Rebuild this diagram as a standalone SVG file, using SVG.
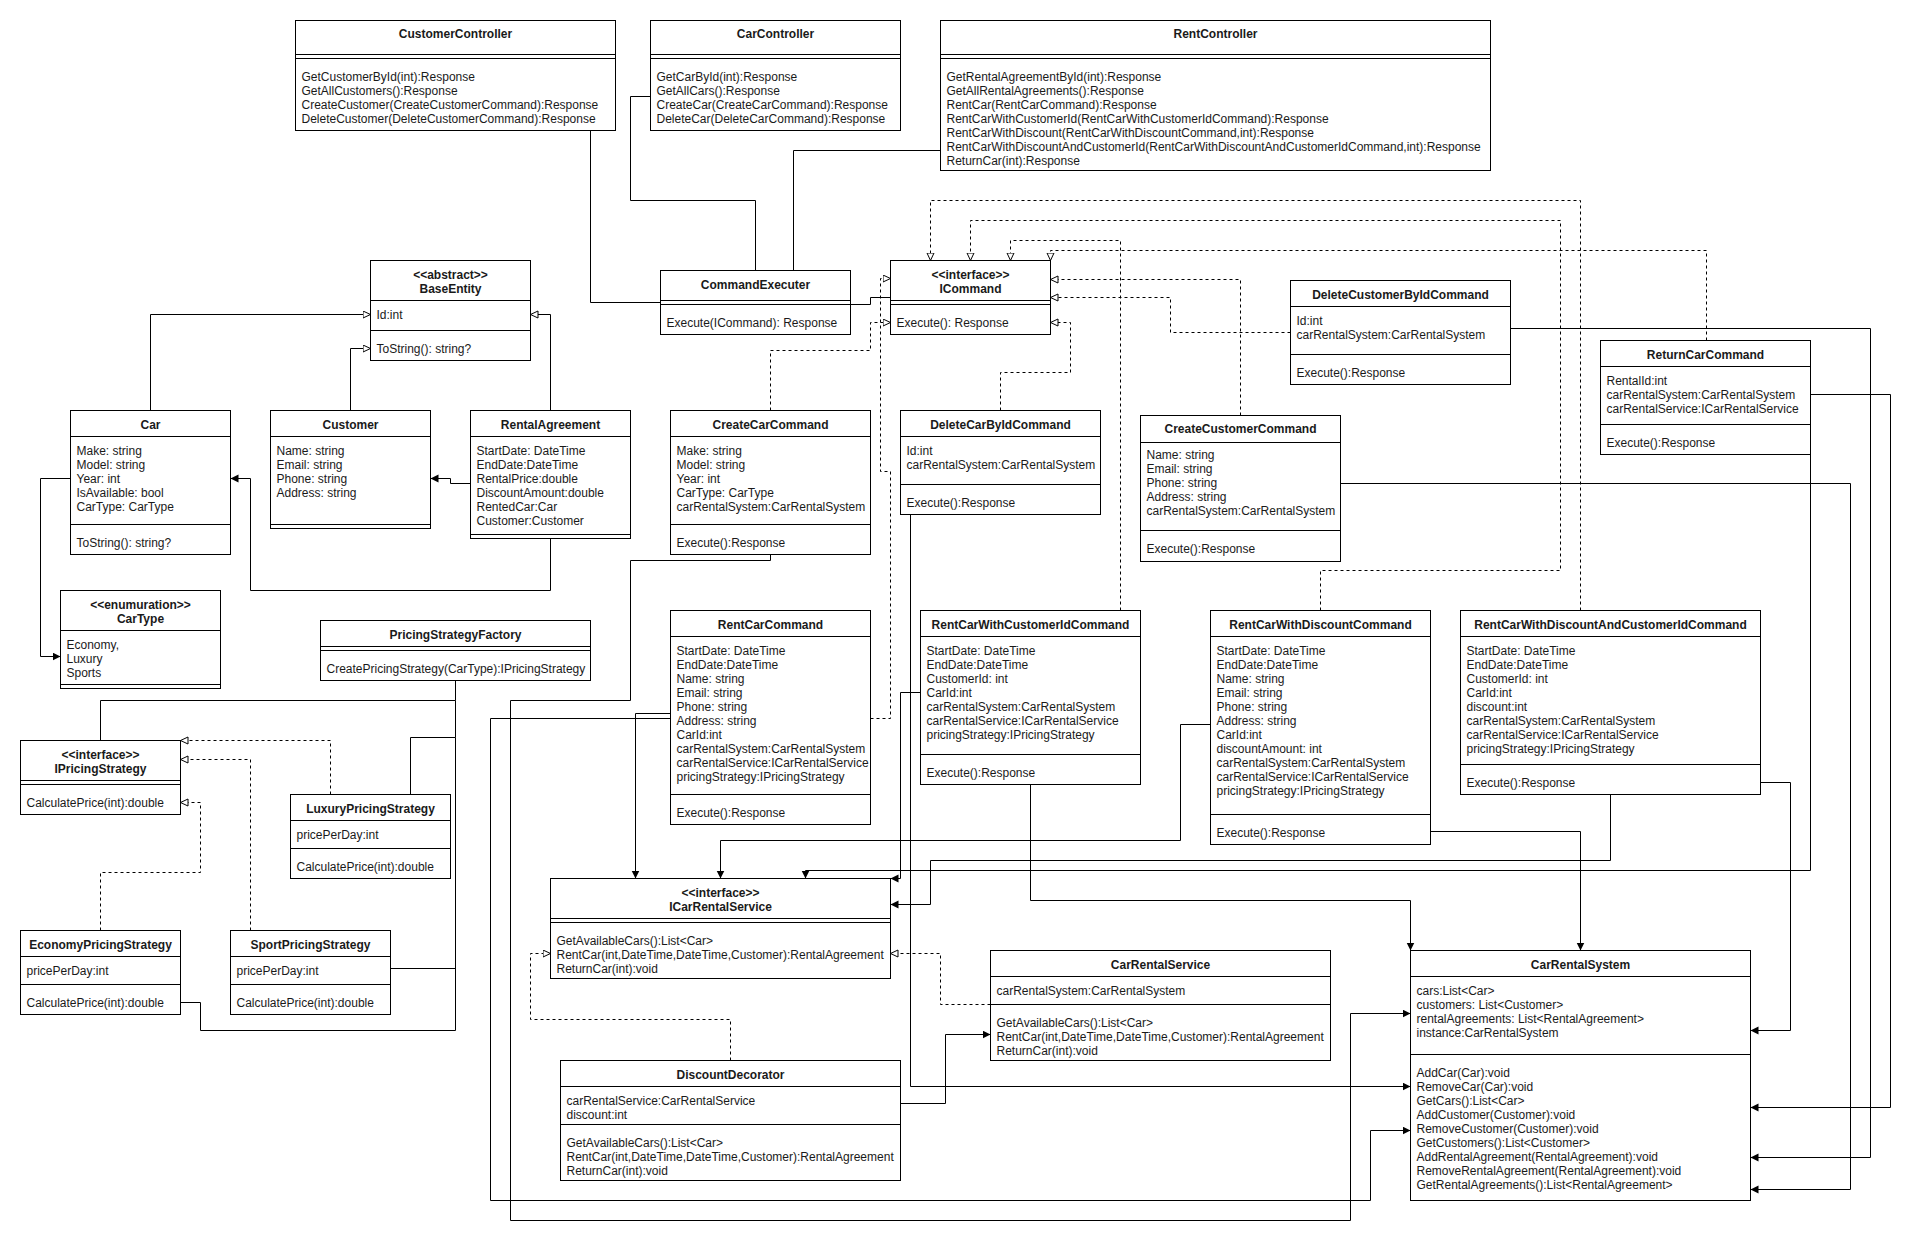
<svg xmlns="http://www.w3.org/2000/svg" width="1920" height="1250" viewBox="0 0 1920 1250">
<style>
.bx{fill:#fff;stroke:#000;stroke-width:1}
.sep{stroke:#000;stroke-width:1}
text{font-family:"Liberation Sans",Arial,Helvetica,sans-serif;font-size:12px;fill:#1a1a1a}
.ti{font-weight:bold;text-anchor:middle}
.ln{fill:none;stroke:#000;stroke-width:1}
.da{stroke-dasharray:3 3}
</style>
<defs>
<marker id="fa" markerWidth="10" markerHeight="10" refX="8" refY="4" orient="auto" markerUnits="userSpaceOnUse"><path d="M0,0 L8,4 L0,8 z" fill="#000"/></marker>
<marker id="ha" markerWidth="10" markerHeight="10" refX="8" refY="4" orient="auto" markerUnits="userSpaceOnUse"><path d="M0.5,0.5 L8,4 L0.5,7.5 z" fill="#fff" stroke="#000" stroke-width="1"/></marker>
</defs>
<rect width="1920" height="1250" fill="#fff"/>
<g transform="translate(0.5,0.5)">

<g id="connectors">
<!-- controllers to executer -->
<path class="ln" d="M590,130 V302 H660"/>
<path class="ln" d="M650,96 H630 V200 H755 V270"/>
<path class="ln" d="M940,150 H793 V270"/>
<path class="ln" d="M850,304 H870 V297 H890"/>
<!-- inheritance -->
<path class="ln" d="M150,410 V314 H370" marker-end="url(#ha)"/>
<path class="ln" d="M350,410 V348 H370" marker-end="url(#ha)"/>
<path class="ln" d="M550,410 V314 H530" marker-end="url(#ha)"/>
<!-- associations entities -->
<path class="ln" d="M470,483 H450 V478 H430" marker-end="url(#fa)"/>
<path class="ln" d="M550,538 V590 H250 V478 H230" marker-end="url(#fa)"/>
<path class="ln" d="M70,478 H40 V656 H60" marker-end="url(#fa)"/>
<!-- pricing factory -->
<path class="ln" d="M455,680 V700 H100 V740"/>
<path class="ln" d="M455,700 V737 H410 V794"/>
<path class="ln" d="M455,737 V1030 H200 V1002 H180"/>
<path class="ln" d="M455,968 H390"/>
<!-- pricing realization -->
<path class="ln da" d="M330,794 V740 H180" marker-end="url(#ha)"/>
<path class="ln da" d="M250,930 V759 H180" marker-end="url(#ha)"/>
<path class="ln da" d="M100,930 V872 H200 V802 H180" marker-end="url(#ha)"/>
<!-- commands realize ICommand -->
<path class="ln da" d="M770,410 V350 H870 V322 H890" marker-end="url(#ha)"/>
<path class="ln da" d="M870,718 H890 V471 H880 V278 H890" marker-end="url(#ha)"/>
<path class="ln da" d="M1000,410 V372 H1070 V322 H1050" marker-end="url(#ha)"/>
<path class="ln da" d="M1290,332 H1170 V297 H1050" marker-end="url(#ha)"/>
<path class="ln da" d="M1240,415 V279 H1050" marker-end="url(#ha)"/>
<path class="ln da" d="M1120,610 V240 H1010 V260" marker-end="url(#ha)"/>
<path class="ln da" d="M1706,340 V250 H1050 V260" marker-end="url(#ha)"/>
<path class="ln da" d="M1320,610 V570 H1560 V220 H970 V260" marker-end="url(#ha)"/>
<path class="ln da" d="M1580,610 V200 H930 V260" marker-end="url(#ha)"/>
<!-- to ICarRentalService / CarRentalSystem -->
<path class="ln" d="M670,713 H635 V878" marker-end="url(#fa)"/>
<path class="ln" d="M670,718 H490 V1200 H1370 V1130 H1410" marker-end="url(#fa)"/>
<path class="ln" d="M770,554 V560 H630 V700 H510 V1220 H1350 V1013 H1410" marker-end="url(#fa)"/>
<path class="ln" d="M1210,724 H1180 V840 H720 V878" marker-end="url(#fa)"/>
<path class="ln" d="M1810,454 V870 H805 V878" marker-end="url(#fa)"/>
<path class="ln" d="M1610,794 V860 H930 V904 H890" marker-end="url(#fa)"/>
<path class="ln" d="M920,692 H900 V878 H890" marker-end="url(#fa)"/>
<path class="ln" d="M910,514 V1086 H1410" marker-end="url(#fa)"/>
<path class="ln" d="M1030,784 V900 H1410 V950" marker-end="url(#fa)"/>
<path class="ln" d="M1430,831 H1580 V950" marker-end="url(#fa)"/>
<path class="ln" d="M1760,782 H1790 V1030 H1750" marker-end="url(#fa)"/>
<path class="ln" d="M1340,483 H1850 V1189 H1750" marker-end="url(#fa)"/>
<path class="ln" d="M1510,328 H1870 V1157 H1750" marker-end="url(#fa)"/>
<path class="ln" d="M1810,394 H1890 V1107 H1750" marker-end="url(#fa)"/>
<path class="ln" d="M900,1103 H945 V1034 H990" marker-end="url(#fa)"/>
<path class="ln da" d="M990,1004 H940 V953 H890" marker-end="url(#ha)"/>
<path class="ln da" d="M730,1060 V1019 H530 V953 H550" marker-end="url(#ha)"/>
</g>

<g id="CustomerController">
<rect class="bx" x="295" y="20" width="320" height="110"/>
<path class="sep" d="M295,54 H615 M295,58 H615"/>
<text class="ti" x="455" y="37">CustomerController</text>
<text x="301" y="80">GetCustomerById(int):Response<tspan x="301" dy="14">GetAllCustomers():Response</tspan><tspan x="301" dy="14">CreateCustomer(CreateCustomerCommand):Response</tspan><tspan x="301" dy="14">DeleteCustomer(DeleteCustomerCommand):Response</tspan></text>
</g>

<g id="CarController">
<rect class="bx" x="650" y="20" width="250" height="110"/>
<path class="sep" d="M650,54 H900 M650,58 H900"/>
<text class="ti" x="775" y="37">CarController</text>
<text x="656" y="80">GetCarById(int):Response<tspan x="656" dy="14">GetAllCars():Response</tspan><tspan x="656" dy="14">CreateCar(CreateCarCommand):Response</tspan><tspan x="656" dy="14">DeleteCar(DeleteCarCommand):Response</tspan></text>
</g>

<g id="RentController">
<rect class="bx" x="940" y="20" width="550" height="150"/>
<path class="sep" d="M940,54 H1490 M940,58 H1490"/>
<text class="ti" x="1215" y="37">RentController</text>
<text x="946" y="80">GetRentalAgreementById(int):Response<tspan x="946" dy="14">GetAllRentalAgreements():Response</tspan><tspan x="946" dy="14">RentCar(RentCarCommand):Response</tspan><tspan x="946" dy="14">RentCarWithCustomerId(RentCarWithCustomerIdCommand):Response</tspan><tspan x="946" dy="14">RentCarWithDiscount(RentCarWithDiscountCommand,int):Response</tspan><tspan x="946" dy="14">RentCarWithDiscountAndCustomerId(RentCarWithDiscountAndCustomerIdCommand,int):Response</tspan><tspan x="946" dy="14">ReturnCar(int):Response</tspan></text>
</g>

<g id="BaseEntity">
<rect class="bx" x="370" y="260" width="160" height="100"/>
<path class="sep" d="M370,300 H530 M370,330 H530"/>
<text class="ti" x="450" y="278">&lt;&lt;abstract&gt;&gt;<tspan x="450" dy="14">BaseEntity</tspan></text>
<text x="376" y="318">Id:int</text>
<text x="376" y="352">ToString(): string?</text>
</g>

<g id="CommandExecuter">
<rect class="bx" x="660" y="270" width="190" height="64"/>
<path class="sep" d="M660,300 H850 M660,304 H850"/>
<text class="ti" x="755" y="288">CommandExecuter</text>
<text x="666" y="326">Execute(ICommand): Response</text>
</g>

<g id="ICommand">
<rect class="bx" x="890" y="260" width="160" height="74"/>
<path class="sep" d="M890,300 H1050 M890,304 H1050"/>
<text class="ti" x="970" y="278">&lt;&lt;interface&gt;&gt;<tspan x="970" dy="14">ICommand</tspan></text>
<text x="896" y="326">Execute(): Response</text>
</g>

<g id="DeleteCustomerByIdCommand">
<rect class="bx" x="1290" y="280" width="220" height="104"/>
<path class="sep" d="M1290,306 H1510 M1290,354 H1510"/>
<text class="ti" x="1400" y="298">DeleteCustomerByIdCommand</text>
<text x="1296" y="324">Id:int<tspan x="1296" dy="14">carRentalSystem:CarRentalSystem</tspan></text>
<text x="1296" y="376">Execute():Response</text>
</g>

<g id="ReturnCarCommand">
<rect class="bx" x="1600" y="340" width="210" height="114"/>
<path class="sep" d="M1600,366 H1810 M1600,424 H1810"/>
<text class="ti" x="1705" y="358">ReturnCarCommand</text>
<text x="1606" y="384">RentalId:int<tspan x="1606" dy="14">carRentalSystem:CarRentalSystem</tspan><tspan x="1606" dy="14">carRentalService:ICarRentalService</tspan></text>
<text x="1606" y="446">Execute():Response</text>
</g>

<g id="Car">
<rect class="bx" x="70" y="410" width="160" height="144"/>
<path class="sep" d="M70,436 H230 M70,524 H230"/>
<text class="ti" x="150" y="428">Car</text>
<text x="76" y="454">Make: string<tspan x="76" dy="14">Model: string</tspan><tspan x="76" dy="14">Year: int</tspan><tspan x="76" dy="14">IsAvailable: bool</tspan><tspan x="76" dy="14">CarType: CarType</tspan></text>
<text x="76" y="546">ToString(): string?</text>
</g>

<g id="Customer">
<rect class="bx" x="270" y="410" width="160" height="118"/>
<path class="sep" d="M270,436 H430 M270,524 H430"/>
<text class="ti" x="350" y="428">Customer</text>
<text x="276" y="454">Name: string<tspan x="276" dy="14">Email: string</tspan><tspan x="276" dy="14">Phone: string</tspan><tspan x="276" dy="14">Address: string</tspan></text>
</g>

<g id="RentalAgreement">
<rect class="bx" x="470" y="410" width="160" height="128"/>
<path class="sep" d="M470,436 H630 M470,534 H630"/>
<text class="ti" x="550" y="428">RentalAgreement</text>
<text x="476" y="454">StartDate: DateTime<tspan x="476" dy="14">EndDate:DateTime</tspan><tspan x="476" dy="14">RentalPrice:double</tspan><tspan x="476" dy="14">DiscountAmount:double</tspan><tspan x="476" dy="14">RentedCar:Car</tspan><tspan x="476" dy="14">Customer:Customer</tspan></text>
</g>

<g id="CreateCarCommand">
<rect class="bx" x="670" y="410" width="200" height="144"/>
<path class="sep" d="M670,436 H870 M670,524 H870"/>
<text class="ti" x="770" y="428">CreateCarCommand</text>
<text x="676" y="454">Make: string<tspan x="676" dy="14">Model: string</tspan><tspan x="676" dy="14">Year: int</tspan><tspan x="676" dy="14">CarType: CarType</tspan><tspan x="676" dy="14">carRentalSystem:CarRentalSystem</tspan></text>
<text x="676" y="546">Execute():Response</text>
</g>

<g id="DeleteCarByIdCommand">
<rect class="bx" x="900" y="410" width="200" height="104"/>
<path class="sep" d="M900,436 H1100 M900,484 H1100"/>
<text class="ti" x="1000" y="428">DeleteCarByIdCommand</text>
<text x="906" y="454">Id:int<tspan x="906" dy="14">carRentalSystem:CarRentalSystem</tspan></text>
<text x="906" y="506">Execute():Response</text>
</g>

<g id="CreateCustomerCommand">
<rect class="bx" x="1140" y="415" width="200" height="146"/>
<path class="sep" d="M1140,442 H1340 M1140,530 H1340"/>
<text class="ti" x="1240" y="432">CreateCustomerCommand</text>
<text x="1146" y="458">Name: string<tspan x="1146" dy="14">Email: string</tspan><tspan x="1146" dy="14">Phone: string</tspan><tspan x="1146" dy="14">Address: string</tspan><tspan x="1146" dy="14">carRentalSystem:CarRentalSystem</tspan></text>
<text x="1146" y="552">Execute():Response</text>
</g>

<g id="CarType">
<rect class="bx" x="60" y="590" width="160" height="98"/>
<path class="sep" d="M60,630 H220 M60,684 H220"/>
<text class="ti" x="140" y="608">&lt;&lt;enumuration&gt;&gt;<tspan x="140" dy="14">CarType</tspan></text>
<text x="66" y="648">Economy,<tspan x="66" dy="14">Luxury</tspan><tspan x="66" dy="14">Sports</tspan></text>
</g>

<g id="PricingStrategyFactory">
<rect class="bx" x="320" y="620" width="270" height="60"/>
<path class="sep" d="M320,646 H590 M320,650 H590"/>
<text class="ti" x="455" y="638">PricingStrategyFactory</text>
<text x="326" y="672">CreatePricingStrategy(CarType):IPricingStrategy</text>
</g>

<g id="IPricingStrategy">
<rect class="bx" x="20" y="740" width="160" height="74"/>
<path class="sep" d="M20,780 H180 M20,784 H180"/>
<text class="ti" x="100" y="758">&lt;&lt;interface&gt;&gt;<tspan x="100" dy="14">IPricingStrategy</tspan></text>
<text x="26" y="806">CalculatePrice(int):double</text>
</g>

<g id="LuxuryPricingStrategy">
<rect class="bx" x="290" y="794" width="160" height="84"/>
<path class="sep" d="M290,820 H450 M290,848 H450"/>
<text class="ti" x="370" y="812">LuxuryPricingStrategy</text>
<text x="296" y="838">pricePerDay:int</text>
<text x="296" y="870">CalculatePrice(int):double</text>
</g>

<g id="EconomyPricingStrategy">
<rect class="bx" x="20" y="930" width="160" height="84"/>
<path class="sep" d="M20,956 H180 M20,984 H180"/>
<text class="ti" x="100" y="948">EconomyPricingStrategy</text>
<text x="26" y="974">pricePerDay:int</text>
<text x="26" y="1006">CalculatePrice(int):double</text>
</g>

<g id="SportPricingStrategy">
<rect class="bx" x="230" y="930" width="160" height="84"/>
<path class="sep" d="M230,956 H390 M230,984 H390"/>
<text class="ti" x="310" y="948">SportPricingStrategy</text>
<text x="236" y="974">pricePerDay:int</text>
<text x="236" y="1006">CalculatePrice(int):double</text>
</g>

<g id="RentCarCommand">
<rect class="bx" x="670" y="610" width="200" height="214"/>
<path class="sep" d="M670,636 H870 M670,794 H870"/>
<text class="ti" x="770" y="628">RentCarCommand</text>
<text x="676" y="654">StartDate: DateTime<tspan x="676" dy="14">EndDate:DateTime</tspan><tspan x="676" dy="14">Name: string</tspan><tspan x="676" dy="14">Email: string</tspan><tspan x="676" dy="14">Phone: string</tspan><tspan x="676" dy="14">Address: string</tspan><tspan x="676" dy="14">CarId:int</tspan><tspan x="676" dy="14">carRentalSystem:CarRentalSystem</tspan><tspan x="676" dy="14">carRentalService:ICarRentalService</tspan><tspan x="676" dy="14">pricingStrategy:IPricingStrategy</tspan></text>
<text x="676" y="816">Execute():Response</text>
</g>

<g id="RentCarWithCustomerIdCommand">
<rect class="bx" x="920" y="610" width="220" height="174"/>
<path class="sep" d="M920,636 H1140 M920,754 H1140"/>
<text class="ti" x="1030" y="628">RentCarWithCustomerIdCommand</text>
<text x="926" y="654">StartDate: DateTime<tspan x="926" dy="14">EndDate:DateTime</tspan><tspan x="926" dy="14">CustomerId: int</tspan><tspan x="926" dy="14">CarId:int</tspan><tspan x="926" dy="14">carRentalSystem:CarRentalSystem</tspan><tspan x="926" dy="14">carRentalService:ICarRentalService</tspan><tspan x="926" dy="14">pricingStrategy:IPricingStrategy</tspan></text>
<text x="926" y="776">Execute():Response</text>
</g>

<g id="RentCarWithDiscountCommand">
<rect class="bx" x="1210" y="610" width="220" height="234"/>
<path class="sep" d="M1210,636 H1430 M1210,814 H1430"/>
<text class="ti" x="1320" y="628">RentCarWithDiscountCommand</text>
<text x="1216" y="654">StartDate: DateTime<tspan x="1216" dy="14">EndDate:DateTime</tspan><tspan x="1216" dy="14">Name: string</tspan><tspan x="1216" dy="14">Email: string</tspan><tspan x="1216" dy="14">Phone: string</tspan><tspan x="1216" dy="14">Address: string</tspan><tspan x="1216" dy="14">CarId:int</tspan><tspan x="1216" dy="14">discountAmount: int</tspan><tspan x="1216" dy="14">carRentalSystem:CarRentalSystem</tspan><tspan x="1216" dy="14">carRentalService:ICarRentalService</tspan><tspan x="1216" dy="14">pricingStrategy:IPricingStrategy</tspan></text>
<text x="1216" y="836">Execute():Response</text>
</g>

<g id="RentCarWithDiscountAndCustomerIdCommand">
<rect class="bx" x="1460" y="610" width="300" height="184"/>
<path class="sep" d="M1460,636 H1760 M1460,764 H1760"/>
<text class="ti" x="1610" y="628">RentCarWithDiscountAndCustomerIdCommand</text>
<text x="1466" y="654">StartDate: DateTime<tspan x="1466" dy="14">EndDate:DateTime</tspan><tspan x="1466" dy="14">CustomerId: int</tspan><tspan x="1466" dy="14">CarId:int</tspan><tspan x="1466" dy="14">discount:int</tspan><tspan x="1466" dy="14">carRentalSystem:CarRentalSystem</tspan><tspan x="1466" dy="14">carRentalService:ICarRentalService</tspan><tspan x="1466" dy="14">pricingStrategy:IPricingStrategy</tspan></text>
<text x="1466" y="786">Execute():Response</text>
</g>

<g id="ICarRentalService">
<rect class="bx" x="550" y="878" width="340" height="100"/>
<path class="sep" d="M550,918 H890 M550,922 H890"/>
<text class="ti" x="720" y="896">&lt;&lt;interface&gt;&gt;<tspan x="720" dy="14">ICarRentalService</tspan></text>
<text x="556" y="944">GetAvailableCars():List&lt;Car&gt;<tspan x="556" dy="14">RentCar(int,DateTime,DateTime,Customer):RentalAgreement</tspan><tspan x="556" dy="14">ReturnCar(int):void</tspan></text>
</g>

<g id="DiscountDecorator">
<rect class="bx" x="560" y="1060" width="340" height="120"/>
<path class="sep" d="M560,1086 H900 M560,1124 H900"/>
<text class="ti" x="730" y="1078">DiscountDecorator</text>
<text x="566" y="1104">carRentalService:CarRentalService<tspan x="566" dy="14">discount:int</tspan></text>
<text x="566" y="1146">GetAvailableCars():List&lt;Car&gt;<tspan x="566" dy="14">RentCar(int,DateTime,DateTime,Customer):RentalAgreement</tspan><tspan x="566" dy="14">ReturnCar(int):void</tspan></text>
</g>

<g id="CarRentalService">
<rect class="bx" x="990" y="950" width="340" height="110"/>
<path class="sep" d="M990,976 H1330 M990,1004 H1330"/>
<text class="ti" x="1160" y="968">CarRentalService</text>
<text x="996" y="994">carRentalSystem:CarRentalSystem</text>
<text x="996" y="1026">GetAvailableCars():List&lt;Car&gt;<tspan x="996" dy="14">RentCar(int,DateTime,DateTime,Customer):RentalAgreement</tspan><tspan x="996" dy="14">ReturnCar(int):void</tspan></text>
</g>

<g id="CarRentalSystem">
<rect class="bx" x="1410" y="950" width="340" height="250"/>
<path class="sep" d="M1410,976 H1750 M1410,1054 H1750"/>
<text class="ti" x="1580" y="968">CarRentalSystem</text>
<text x="1416" y="994">cars:List&lt;Car&gt;<tspan x="1416" dy="14">customers: List&lt;Customer&gt;</tspan><tspan x="1416" dy="14">rentalAgreements: List&lt;RentalAgreement&gt;</tspan><tspan x="1416" dy="14">instance:CarRentalSystem</tspan></text>
<text x="1416" y="1076">AddCar(Car):void<tspan x="1416" dy="14">RemoveCar(Car):void</tspan><tspan x="1416" dy="14">GetCars():List&lt;Car&gt;</tspan><tspan x="1416" dy="14">AddCustomer(Customer):void</tspan><tspan x="1416" dy="14">RemoveCustomer(Customer):void</tspan><tspan x="1416" dy="14">GetCustomers():List&lt;Customer&gt;</tspan><tspan x="1416" dy="14">AddRentalAgreement(RentalAgreement):void</tspan><tspan x="1416" dy="14">RemoveRentalAgreement(RentalAgreement):void</tspan><tspan x="1416" dy="14">GetRentalAgreements():List&lt;RentalAgreement&gt;</tspan></text>
</g>

</g>
</svg>
